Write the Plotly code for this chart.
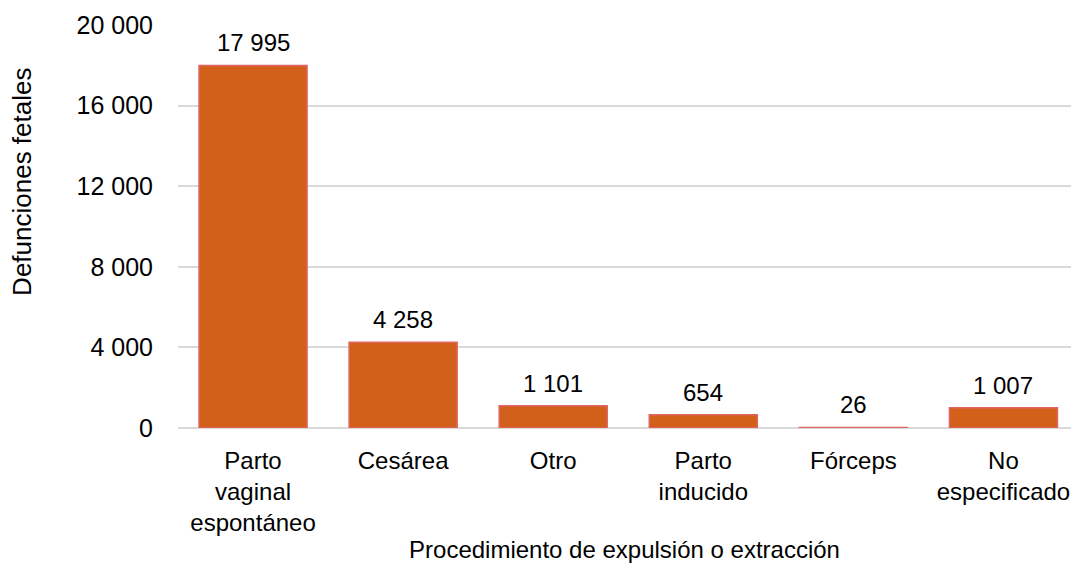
import plotly.graph_objects as go

categorias = [
    "Parto<br>vaginal<br>espontáneo",
    "Cesárea",
    "Otro",
    "Parto<br>inducido",
    "Fórceps",
    "No<br>especificado",
]
defunciones = [17995, 4258, 1101, 654, 26, 1007]
etiquetas = ["17 995", "4 258", "1 101", "654", "26", "1 007"]
ticks_y = [0, 4000, 8000, 12000, 16000, 20000]
ticks_y_txt = ["0", "4 000", "8 000", "12 000", "16 000", "20 000"]

fig = go.Figure()

fig.add_trace(
    go.Bar(
        x=categorias,
        y=defunciones,
        marker=dict(color="#D2601A", line=dict(color="#E06666", width=1.5)),
        width=0.72,
    )
)

# Etiquetas de datos encima de cada barra
for cat, val, txt in zip(categorias, defunciones, etiquetas):
    fig.add_annotation(
        x=cat,
        y=val,
        text=txt,
        showarrow=False,
        yanchor="bottom",
        yshift=7,
        font=dict(size=24, color="#000000"),
    )

# Título del eje Y como anotación (no está centrado en el área del gráfico)
fig.add_annotation(
    text="Defunciones fetales",
    xref="paper",
    yref="paper",
    x=-0.175,
    y=0.61,
    xanchor="center",
    yanchor="middle",
    textangle=-90,
    showarrow=False,
    font=dict(size=26, color="#000000"),
)

# la página añade 8 px de margen al cuerpo, así que la figura es algo menor
fig.update_layout(
    width=1065,
    height=555,
    plot_bgcolor="white",
    paper_bgcolor="white",
    font=dict(family="Liberation Sans, Arial, sans-serif", size=24, color="#000000"),
    margin=dict(l=170, r=2, t=17, b=135),
    showlegend=False,
)

fig.update_xaxes(
    title_text="Procedimiento de expulsión o extracción",
    title_font=dict(size=24),
    title_standoff=16,
    automargin=False,
    range=[-0.5, 5.45],
    showline=False,
    ticks="",
    tickfont=dict(size=24),
    ticklabelstandoff=16,
)

fig.update_yaxes(
    automargin=False,
    range=[0, 20000],
    tickvals=ticks_y,
    ticktext=ticks_y_txt,
    showgrid=True,
    gridcolor="#D9D9D9",
    gridwidth=1.5,
    zeroline=True,
    zerolinecolor="#D9D9D9",
    zerolinewidth=1.5,
    ticks="",
    tickfont=dict(size=25),
    ticklabelstandoff=24,
)

fig.write_html("out.html")
